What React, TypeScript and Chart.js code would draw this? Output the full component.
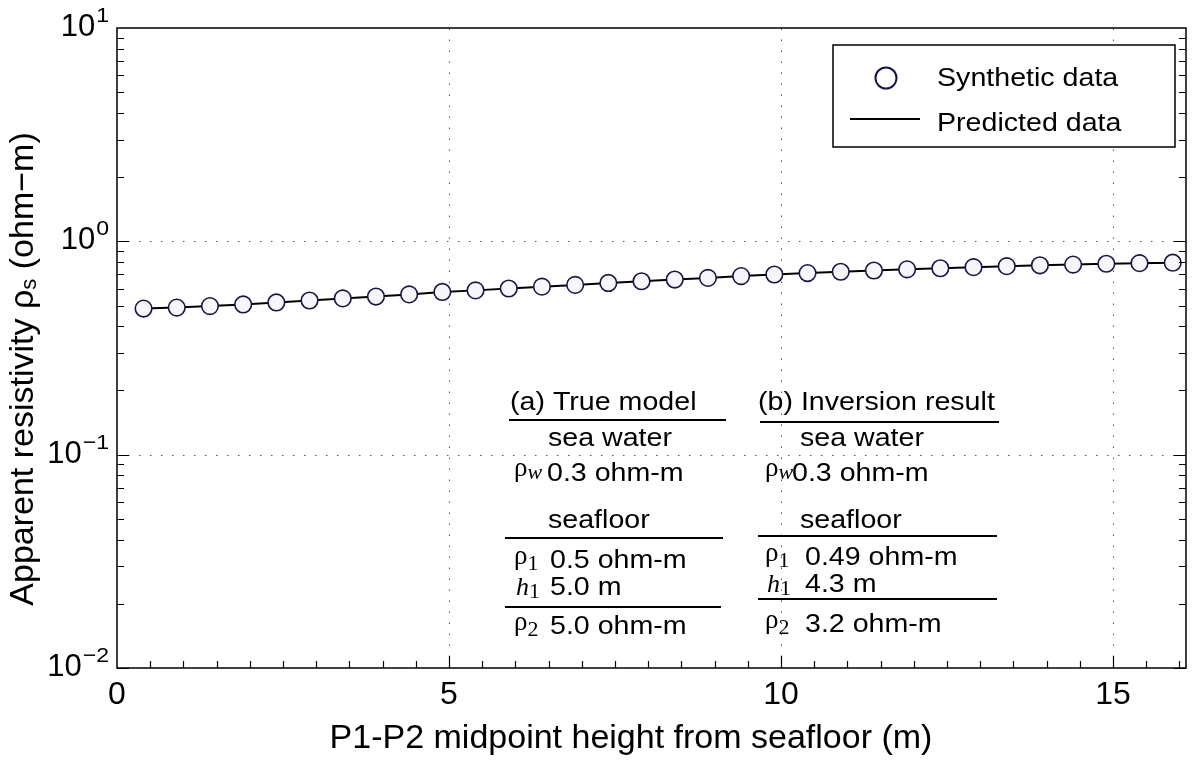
import React, { useEffect, useRef } from "react";
import { Chart, registerables } from "chart.js";

Chart.register(...registerables);

// ---- data ----
const heights = [
  0.4, 0.9, 1.4, 1.9, 2.4, 2.9, 3.4, 3.9, 4.4, 4.9, 5.4, 5.9, 6.4, 6.9, 7.4, 7.9,
  8.4, 8.9, 9.4, 9.9, 10.4, 10.9, 11.4, 11.9, 12.4, 12.9, 13.4, 13.9, 14.4, 14.9, 15.4, 15.9,
];
const synthetic = [
  0.484, 0.489, 0.497, 0.506, 0.517, 0.528, 0.54, 0.551, 0.564, 0.579, 0.589, 0.601, 0.613, 0.625, 0.638, 0.65,
  0.662, 0.674, 0.687, 0.699, 0.71, 0.72, 0.73, 0.739, 0.748, 0.757, 0.765, 0.772, 0.778, 0.785, 0.79, 0.794,
];
const predicted = [
  0.484, 0.489, 0.497, 0.506, 0.517, 0.528, 0.54, 0.551, 0.564, 0.579, 0.589, 0.601, 0.613, 0.625, 0.638, 0.65,
  0.662, 0.674, 0.687, 0.699, 0.71, 0.72, 0.73, 0.739, 0.748, 0.757, 0.765, 0.772, 0.778, 0.785, 0.79, 0.794,
];
const xTickValues = [0, 5, 10, 15];
const xTickLabels = ["0", "5", "10", "15"];
const yDecades = [0.01, 0.1, 1, 10];
const yExponents = ["\u22122", "\u22121", "0", "1"];
const legendLabels = ["Synthetic data", "Predicted data"];
const xTitle = "P1-P2 midpoint height from seafloor (m)";
const yTitleParts = ["Apparent resistivity \u03c1", "s", " (ohm\u2212m)"];
const tableHeads = ["(a) True model", "(b) Inversion result"];
const waterLabel = "sea water";
const floorLabel = "seafloor";
const rhoWValues = ["0.3 ohm-m", "0.3 ohm-m"];
const rho1Values = ["0.5 ohm-m", "0.49 ohm-m"];
const h1Values = ["5.0 m", "4.3 m"];
const rho2Values = ["5.0 ohm-m", "3.2 ohm-m"];

const SANS = '"Liberation Sans", Arial, Helvetica, sans-serif';
const SERIF = '"Liberation Serif", "Times New Roman", serif';
const EDGE = "#15154a";

function txt(
  ctx: CanvasRenderingContext2D,
  s: string,
  x: number,
  y: number,
  size: number,
  o: { sx?: number; align?: CanvasTextAlign; font?: string; style?: string } = {}
) {
  const sx = o.sx ?? 1;
  ctx.save();
  ctx.font = `${o.style ?? ""} ${size}px ${o.font ?? SANS}`;
  ctx.fillStyle = "#000";
  ctx.textAlign = o.align ?? "left";
  ctx.textBaseline = "alphabetic";
  ctx.translate(x, y);
  ctx.scale(sx, 1);
  ctx.fillText(s, 0, 0);
  const w = ctx.measureText(s).width * sx;
  ctx.restore();
  return w;
}

function hline(ctx: CanvasRenderingContext2D, x1: number, x2: number, y: number) {
  ctx.save();
  ctx.strokeStyle = "#000";
  ctx.lineWidth = 2;
  ctx.beginPath();
  ctx.moveTo(x1, y);
  ctx.lineTo(x2, y);
  ctx.stroke();
  ctx.restore();
}

const decor = {
  id: "decor",
  beforeDatasetsDraw(chart: any) {
    const ctx: CanvasRenderingContext2D = chart.ctx;
    const { left, right, top, bottom } = chart.chartArea;
    const xs = chart.scales.x;
    const ys = chart.scales.y;
    ctx.save();
    ctx.strokeStyle = "#555";
    ctx.lineWidth = 1;
    ctx.setLineDash([1.5, 9.5]);
    xTickValues.forEach((v) => {
      if (v <= xs.min || v >= xs.max) return;
      const px = Math.round(xs.getPixelForValue(v)) + 0.5;
      ctx.beginPath();
      ctx.moveTo(px, bottom);
      ctx.lineTo(px, top);
      ctx.stroke();
    });
    yDecades.forEach((v) => {
      if (v <= ys.min || v >= ys.max) return;
      const py = Math.round(ys.getPixelForValue(v)) + 0.5;
      ctx.beginPath();
      ctx.moveTo(left, py);
      ctx.lineTo(right, py);
      ctx.stroke();
    });
    ctx.restore();
  },
  afterDraw(chart: any) {
    const ctx: CanvasRenderingContext2D = chart.ctx;
    const { left, right, top, bottom } = chart.chartArea;
    const xs = chart.scales.x;
    const ys = chart.scales.y;

    // frame
    ctx.save();
    ctx.strokeStyle = "#000";
    ctx.lineWidth = 1.5;
    ctx.strokeRect(left, top, right - left, bottom - top);

    // y ticks (left and right, inward)
    ctx.lineWidth = 1.2;
    for (let k = 0; k < yDecades.length - 1; k++) {
      for (let m = 1; m <= 9; m++) {
        const v = yDecades[k] * m;
        const py = Math.round(ys.getPixelForValue(v)) + 0.5;
        const len = m === 1 ? 12 : 7;
        ctx.beginPath();
        ctx.moveTo(left, py);
        ctx.lineTo(left + len, py);
        ctx.moveTo(right, py);
        ctx.lineTo(right - len, py);
        ctx.stroke();
      }
    }
    // x ticks (bottom, inward)
    for (let i = 1; i <= 32; i++) {
      const v = i * 0.5;
      if (v >= xs.max) break;
      const px = Math.round(xs.getPixelForValue(v)) + 0.5;
      const len = v % 5 === 0 ? 12 : 7;
      ctx.beginPath();
      ctx.moveTo(px, bottom);
      ctx.lineTo(px, bottom - len);
      ctx.stroke();
    }
    ctx.restore();

    // y tick labels 10^n
    yDecades.forEach((v, i) => {
      const py = ys.getPixelForValue(v);
      const ew = txt(ctx, yExponents[i], 109, py - 6, 21, { align: "right", sx: 1.1 });
      txt(ctx, "10", 109 - ew - 1, py + 8, 31, { align: "right" });
    });
    // x tick labels
    xTickValues.forEach((v, i) => {
      const px = xs.getPixelForValue(v);
      txt(ctx, xTickLabels[i], px, 704, 32, { align: "center" });
    });

    // x title
    txt(ctx, xTitle, 631, 748, 34, { align: "center" });

    // y title (rotated)
    ctx.save();
    ctx.translate(33, 369);
    ctx.rotate(-Math.PI / 2);
    ctx.font = `34px ${SANS}`;
    const w0 = ctx.measureText(yTitleParts[0]).width;
    ctx.font = `22px ${SANS}`;
    const w1 = ctx.measureText(yTitleParts[1]).width;
    ctx.font = `34px ${SANS}`;
    const w2 = ctx.measureText(yTitleParts[2]).width;
    const total = w0 + w1 + w2;
    let cx = -total / 2;
    txt(ctx, yTitleParts[0], cx, 0, 34);
    cx += w0;
    txt(ctx, yTitleParts[1], cx, 3, 22);
    cx += w1;
    txt(ctx, yTitleParts[2], cx, 0, 34);
    ctx.restore();

    // legend
    ctx.save();
    ctx.fillStyle = "#fff";
    ctx.fillRect(833, 45, 342, 102);
    ctx.strokeStyle = "#000";
    ctx.lineWidth = 1.5;
    ctx.strokeRect(833, 45, 342, 102);
    ctx.beginPath();
    ctx.arc(886, 78, 10.5, 0, Math.PI * 2);
    ctx.fillStyle = "#fff";
    ctx.fill();
    ctx.strokeStyle = EDGE;
    ctx.lineWidth = 2;
    ctx.stroke();
    ctx.beginPath();
    ctx.strokeStyle = "#000";
    ctx.lineWidth = 2;
    ctx.moveTo(850, 119);
    ctx.lineTo(920, 119);
    ctx.stroke();
    ctx.restore();
    txt(ctx, legendLabels[0], 937, 86, 26, { sx: 1.1 });
    txt(ctx, legendLabels[1], 937, 131, 26, { sx: 1.1 });

    // model tables
    const FS = 26;
    const SX = 1.1;
    const cols = [
      { head: 510, line1: [509, 726, 420], water: 548, rho: 514, wVal: 547, line2: [505, 723, 538], val: 550, line3: [505, 721, 607], headY: 410, waterY: 446, rwY: 481, floorY: 528, r1Y: 568, hY: 595, r2Y: 634 },
      { head: 758, line1: [760, 999, 422], water: 800, rho: 765, wVal: 792, line2: [758, 997, 536], val: 805, line3: [758, 997, 599], headY: 410, waterY: 446, rwY: 481, floorY: 528, r1Y: 565, hY: 592, r2Y: 632 },
    ];
    cols.forEach((c, i) => {
      txt(ctx, tableHeads[i], c.head, c.headY, FS, { sx: SX });
      hline(ctx, c.line1[0], c.line1[1], c.line1[2]);
      txt(ctx, waterLabel, c.water, c.waterY, FS, { sx: SX });
      // rho_w
      let w = txt(ctx, "\u03c1", c.rho, c.rwY - 5, 27, { font: SERIF });
      txt(ctx, "w", c.rho + w, c.rwY - 2, 22, { font: SERIF, style: "italic" });
      txt(ctx, rhoWValues[i], c.wVal, c.rwY, FS, { sx: SX });
      txt(ctx, floorLabel, c.water, c.floorY, FS, { sx: SX });
      hline(ctx, c.line2[0], c.line2[1], c.line2[2]);
      // rho_1
      w = txt(ctx, "\u03c1", c.rho, c.r1Y - 4, 27, { font: SERIF });
      txt(ctx, "1", c.rho + w, c.r1Y + 2, 22, { font: SERIF });
      txt(ctx, rho1Values[i], c.val, c.r1Y, FS, { sx: SX });
      // h_1
      w = txt(ctx, "h", c.rho + 2, c.hY, 26, { font: SERIF, style: "italic" });
      txt(ctx, "1", c.rho + 2 + w, c.hY + 3, 22, { font: SERIF });
      txt(ctx, h1Values[i], c.val, c.hY, FS, { sx: SX });
      hline(ctx, c.line3[0], c.line3[1], c.line3[2]);
      // rho_2
      w = txt(ctx, "\u03c1", c.rho, c.r2Y - 4, 27, { font: SERIF });
      txt(ctx, "2", c.rho + w, c.r2Y + 2, 22, { font: SERIF });
      txt(ctx, rho2Values[i], c.val, c.r2Y, FS, { sx: SX });
    });
  },
};

export default function App() {
  const ref = useRef<HTMLCanvasElement | null>(null);
  useEffect(() => {
    document.body.style.margin = "0";
    const canvas = ref.current;
    if (!canvas) return;
    const chart = new Chart(canvas, {
      type: "line",
      data: {
        datasets: [
          {
            label: legendLabels[0],
            data: heights.map((x, i) => ({ x, y: synthetic[i] })),
            showLine: false,
            pointRadius: 8.3,
            pointBackgroundColor: "#f7f7fa",
            pointBorderColor: EDGE,
            pointBorderWidth: 1.6,
            borderColor: EDGE,
            backgroundColor: "#f7f7fa",
          },
          {
            label: legendLabels[1],
            data: heights.map((x, i) => ({ x, y: predicted[i] })),
            borderColor: "#000",
            borderWidth: 2,
            pointRadius: 0,
            fill: false,
            tension: 0,
          },
        ],
      },
      options: {
        animation: false,
        responsive: false,
        maintainAspectRatio: false,
        events: [],
        layout: { padding: { top: 28, right: 14, left: 0, bottom: 0 } },
        plugins: {
          legend: { display: false },
          tooltip: { enabled: false },
          title: { display: false },
        },
        scales: {
          x: {
            type: "linear",
            min: 0,
            max: 16.1,
            grid: { display: false },
            border: { display: false },
            ticks: { display: false },
            afterFit: (s: any) => {
              s.height = 92;
            },
          },
          y: {
            type: "logarithmic",
            min: 0.01,
            max: 10,
            grid: { display: false },
            border: { display: false },
            ticks: { display: false },
            afterFit: (s: any) => {
              s.width = 117;
            },
          },
        },
      } as any,
      plugins: [decor],
    });
    return () => chart.destroy();
  }, []);
  return (
    <div style={{ width: 1200, height: 760, background: "#fff" }}>
      <canvas ref={ref} width={1200} height={760} style={{ display: "block" }} />
    </div>
  );
}
